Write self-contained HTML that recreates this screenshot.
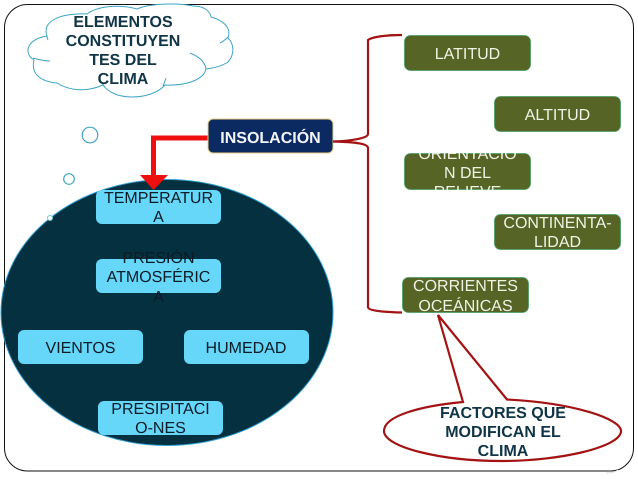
<!DOCTYPE html>
<html><head><meta charset="utf-8"><style>
html,body{margin:0;padding:0;background:#fff}
svg{display:block}
text{font-family:"Liberation Sans",sans-serif;font-size:16px;text-anchor:middle;text-rendering:geometricPrecision}
.b{font-weight:bold;fill:#0f3547}
.d{fill:#0a1c26}
.w{fill:#f0f2e4}
</style></head><body>
<svg width="638" height="479" viewBox="0 0 638 479" xmlns="http://www.w3.org/2000/svg">
<defs><clipPath id="o"><rect x="404" y="153" width="127" height="37" rx="6"/></clipPath></defs>
<rect width="638" height="479" fill="#fff"/>
<rect x="4.500" y="4.500" width="629" height="466.500" rx="23" fill="#fff" stroke="#111" stroke-width="1"/>
<path d="M606 473C611 473 615 472 618 470" fill="none" stroke="#ddd" stroke-width="1"/>
<!-- cloud -->
<path d="M47 36C42 22 58 13 87 14C97 6 120 4 137 9C150 3 180 3 193 6C204 6 210 11 211 17C222 20 232 27 228 38C234 44 235 54 228 62C222 66 214 68 206 69C204 78 190 86 165 85C158 93 145 97 132 97C118 97 108 92 103 85C85 93 68 90 57 83C44 82 30 76 34 60C24 54 25 40 47 36Z" fill="#fff" stroke="#3fa5c5" stroke-width="1"/>
<path d="M33 58C40 60 45 61 50 61M100 80C102 83 103 85 105 87M166 78C165 81 164 84 163 86M190 53C200 57 205 62 206 69M220 43C224 41 226 39 228 37M47 36C47 37 47 38 48 40" fill="none" stroke="#3fa5c5" stroke-width="1"/>
<circle cx="90" cy="135" r="7.800" fill="#fff" stroke="#3fa5c5" stroke-width="1.200"/>
<circle cx="69" cy="179" r="5.300" fill="#fff" stroke="#3fa5c5" stroke-width="1.200"/>
<text class="b" x="123" y="27">ELEMENTOS</text>
<text class="b" x="123" y="46">CONSTITUYEN</text>
<text class="b" x="123" y="65">TES DEL</text>
<text class="b" x="123" y="84">CLIMA</text>
<!-- big ellipse -->
<ellipse cx="167" cy="312.500" rx="166" ry="133" fill="#04303f" stroke="#2f9fd0" stroke-width="1"/>
<circle cx="50" cy="218" r="2.500" fill="#fff" stroke="#6fc9e6" stroke-width="1"/>
<!-- light blue boxes -->
<g fill="#66d6f9">
<rect x="96" y="190" width="125" height="34" rx="6"/>
<rect x="96" y="259" width="125" height="34" rx="6"/>
<rect x="18" y="330" width="125" height="34" rx="6"/>
<rect x="184" y="330" width="125" height="34" rx="6"/>
<rect x="98" y="401" width="125" height="34" rx="6"/>
</g>
<text class="d" x="158.500" y="203">TEMPERATUR</text>
<text class="d" x="158.500" y="222">A</text>
<text class="d" x="158.500" y="263">PRESIÓN</text>
<text class="d" x="158.500" y="282">ATMOSFÉRIC</text>
<text class="d" x="158.500" y="302">A</text>
<text class="d" x="80.500" y="353">VIENTOS</text>
<text class="d" x="246" y="353">HUMEDAD</text>
<text class="d" x="160.500" y="414">PRESIPITACI</text>
<text class="d" x="160.500" y="433">O-NES</text>
<!-- red arrow -->
<path d="M208 138H153.500V177" fill="none" stroke="#ee0f0f" stroke-width="5"/>
<polygon points="140,175 168,175 153.500,190" fill="#ee0f0f"/>
<!-- insolacion -->
<rect x="208" y="119" width="125" height="34" rx="5" fill="#0c2a62" stroke="#e8cf80" stroke-width="1"/>
<text x="270.500" y="143" style="font-weight:bold" fill="#f2f4f8">INSOLACIÓN</text>
<!-- brace -->
<path d="M402 35C385 35 372 37 368 40V134C368 138 352 141 333 141.500C352 142 368 143 368 148V307C368 311 385 312 402 312.500" fill="none" stroke="#a31313" stroke-width="2.200"/>
<!-- green boxes -->
<g fill="#566426" stroke="#46a066" stroke-width="0.800">
<rect x="404.500" y="35.500" width="126" height="35" rx="6"/>
<rect x="494.500" y="96.500" width="126" height="35" rx="6"/>
<rect x="404.500" y="153.500" width="126" height="36" rx="6"/>
<rect x="494.500" y="214.500" width="126" height="35" rx="6"/>
<rect x="402.500" y="277.500" width="126" height="35" rx="6"/>
</g>
<text class="w" x="467.500" y="59">LATITUD</text>
<text class="w" x="557.500" y="120">ALTITUD</text>
<g clip-path="url(#o)">
<text class="w" x="467.500" y="159">ORIENTACIO</text>
<text class="w" x="467.500" y="178">N DEL</text>
<text class="w" x="467.500" y="197">RELIEVE</text>
</g>
<text class="w" x="557.500" y="228">CONTINENTA-</text>
<text class="w" x="557.500" y="247">LIDAD</text>
<text class="w" x="465.500" y="291">CORRIENTES</text>
<text class="w" x="465.500" y="311">OCEÁNICAS</text>
<!-- callout -->
<path d="M463 402L438 315L507 399.500C575 403 621 419 621 431C621 447 560 461 502 461C440 461 384 447 384 431C384 416 420 406 463 402Z" fill="#fff" stroke="#a31313" stroke-width="2.200"/>
<text class="b" x="503" y="418">FACTORES QUE</text>
<text class="b" x="503" y="437">MODIFICAN EL</text>
<text class="b" x="503" y="456">CLIMA</text>
</svg>
</body></html>
